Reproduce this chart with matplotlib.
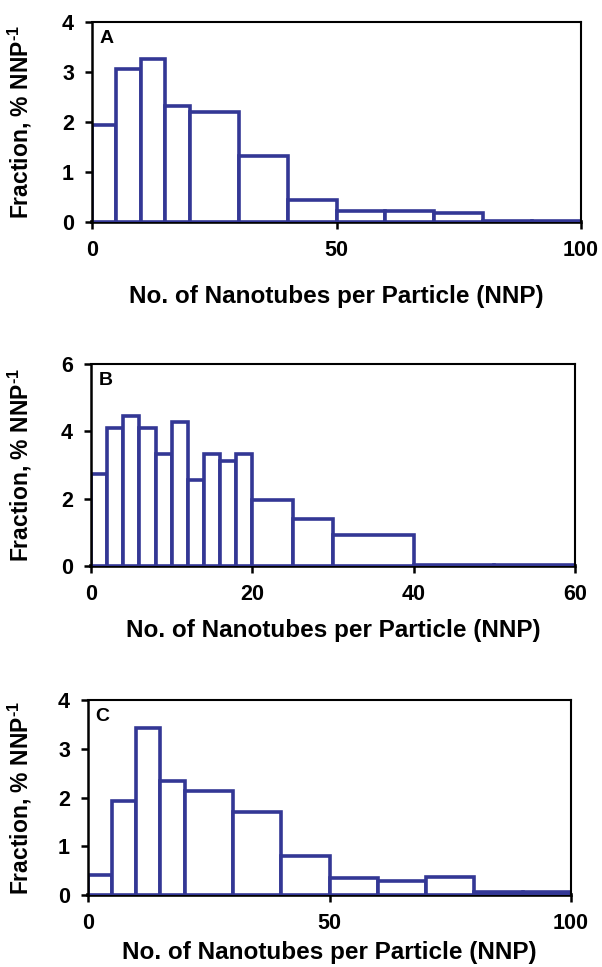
import matplotlib
matplotlib.use("Agg")
import matplotlib.pyplot as plt
import numpy as np

plt.rcParams['font.family'] = ['Liberation Sans', 'DejaVu Sans']
plt.rcParams['font.weight'] = 'bold'
plt.rcParams['mathtext.fontset'] = 'custom'
plt.rcParams['mathtext.rm'] = 'Liberation Sans'
plt.rcParams['mathtext.bf'] = 'Liberation Sans:bold'

# Panel A
edges_a = [0, 5, 10, 15, 20, 30, 40, 50, 60, 70, 80, 90, 100]
vals_a = [1.95, 3.06, 3.26, 2.33, 2.2, 1.32, 0.45, 0.23, 0.23, 0.19, 0.03, 0.03]
# Panel B
edges_b = [0, 2, 4, 6, 8, 10, 12, 14, 16, 18, 20, 25, 30, 40, 50, 60]
vals_b = [2.73, 4.1, 4.46, 4.1, 3.32, 4.27, 2.54, 3.32, 3.12, 3.32, 1.95, 1.4, 0.93, 0.02, 0.02]
# Panel C
edges_c = [0, 5, 10, 15, 20, 30, 40, 50, 60, 70, 80, 90, 100]
vals_c = [0.42, 1.92, 3.42, 2.33, 2.13, 1.70, 0.80, 0.34, 0.29, 0.37, 0.07, 0.07]

xlims = [(0, 100), (0, 60), (0, 100)]
ylims = [(0, 4), (0, 6), (0, 4)]
xticks = [[0, 50, 100], [0, 20, 40, 60], [0, 50, 100]]
yticks = [[0, 1, 2, 3, 4], [0, 2, 4, 6], [0, 1, 2, 3, 4]]
labels = ['A', 'B', 'C']
xlabel = 'No. of Nanotubes per Particle (NNP)'
ylabel = 'Fraction, % NNP$^{\\text{-1}}$'

W, H = 602, 967
fig = plt.figure(figsize=(W / 100, H / 100), dpi=100)

# axes boxes in pixels: left, right, top, bottom
boxes = [(92, 581, 22, 222), (91, 575, 364, 566), (88, 571, 700, 895)]
xlabel_y = [297, 630, 953]

blue = '#333795'
data = [(edges_a, vals_a), (edges_b, vals_b), (edges_c, vals_c)]

for i, ((edges, vals), (l, r, t, b)) in enumerate(zip(data, boxes)):
    ax = fig.add_axes([l / W, 1 - b / H, (r - l) / W, (b - t) / H])
    e = np.array(edges, dtype=float)
    ax.bar(e[:-1], vals, width=np.diff(e), align='edge', color='white',
           edgecolor=blue, linewidth=2.6, zorder=2)
    ax.set_xlim(*xlims[i])
    ax.set_ylim(*ylims[i])
    ax.set_xticks(xticks[i])
    ax.set_yticks(yticks[i])
    for s in ['top', 'right']:
        ax.spines[s].set_linewidth(1.5)
    ax.spines['left'].set_linewidth(1.8)
    ax.spines['bottom'].set_linewidth(2.6)
    ax.spines['bottom'].set_zorder(1.5)
    ax.tick_params(axis='both', direction='out', length=5, width=1.8,
                   labelsize=15.5)
    ax.tick_params(axis='x', pad=8)
    ax.tick_params(axis='y', pad=8)
    for lab in ax.get_xticklabels() + ax.get_yticklabels():
        lab.set_fontweight('bold')
    ax.text(0.015, 0.96, labels[i], transform=ax.transAxes, fontsize=14,
            fontweight='bold', va='top', ha='left')
    fig.text((l + r) / 2 / W, 1 - xlabel_y[i] / H, xlabel, ha='center',
             va='center', fontsize=17.5, fontweight='bold')
    fig.text(20 / W, 1 - (t + b) / 2 / H, ylabel, rotation=90, ha='center',
             va='center', fontsize=16.5, fontweight='bold')

fig.savefig('out.png', dpi=100)
